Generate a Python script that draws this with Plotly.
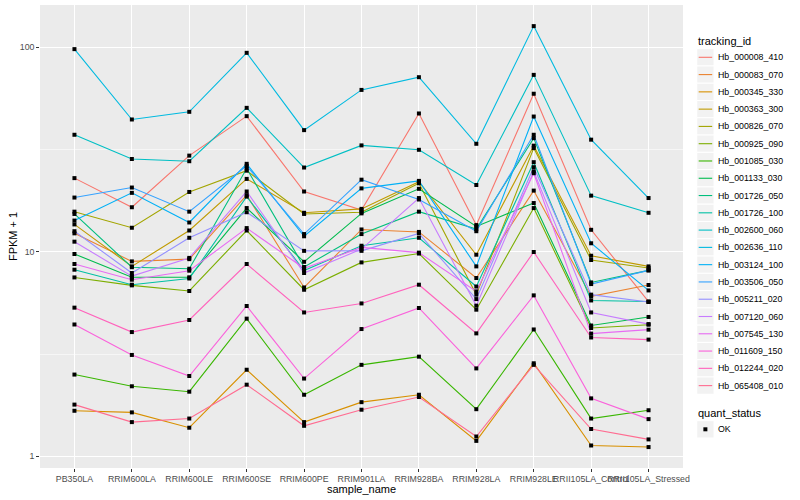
import plotly.graph_objects as go

samples = ["PB350LA", "RRIM600LA", "RRIM600LE", "RRIM600SE", "RRIM600PE", "RRIM901LA",
           "RRIM928BA", "RRIM928LA", "RRIM928LE", "RRII105LA_Control", "RRII105LA_Stressed"]

tracking_ids = ["Hb_000008_410", "Hb_000083_070", "Hb_000345_330", "Hb_000363_300", "Hb_000826_070",
                "Hb_000925_090", "Hb_001085_030", "Hb_001133_030", "Hb_001726_050", "Hb_001726_100",
                "Hb_002600_060", "Hb_002636_110", "Hb_003124_100", "Hb_003506_050", "Hb_005211_020",
                "Hb_007120_060", "Hb_007545_130", "Hb_011609_150", "Hb_012244_020", "Hb_065408_010"]

colors = ["#F8766D", "#EA8331", "#D89000", "#C09B00", "#A3A500", "#7CAE00", "#39B600", "#00BB4E",
          "#00BF7D", "#00C1A3", "#00BFC4", "#00BAE0", "#00B0F6", "#35A2FF", "#9590FF", "#C77CFF",
          "#E76BF3", "#FA62DB", "#FF62BC", "#FF6C91"]

# FPKM + 1 per sample (same order as samples)
Hb_000008_410 = [22.9, 16.5, 29.5, 46.0, 19.7, 16.0, 47.4, 13.5, 59.2, 12.8, 5.7]
Hb_000083_070 = [12.3, 8.97, 9.2, 18.9, 6.69, 12.85, 12.5, 7.44, 19.9, 6.05, 6.88]
Hb_000345_330 = [1.67, 1.64, 1.38, 2.65, 1.47, 1.84, 2.0, 1.19, 2.85, 1.13, 1.11]
Hb_000363_300 = [13.6, 8.48, 12.7, 22.7, 15.5, 16.2, 22.0, 9.67, 33.0, 9.56, 8.48]
Hb_000826_070 = [15.7, 13.1, 19.6, 24.9, 15.3, 15.6, 21.6, 6.17, 32.1, 9.11, 8.32]
Hb_000925_090 = [7.49, 6.85, 6.43, 12.7, 6.52, 8.87, 9.8, 5.21, 16.35, 4.24, 4.40]
Hb_001085_030 = [2.51, 2.20, 2.07, 4.71, 2.0, 2.8, 3.07, 1.70, 4.17, 1.53, 1.68]
Hb_001133_030 = [9.75, 7.5, 7.5, 16.35, 8.93, 15.4, 20.3, 13.3, 17.3, 4.36, 4.80]
Hb_001726_050 = [15.3, 8.4, 8.26, 25.5, 8.42, 12.2, 15.7, 12.9, 35.9, 7.08, 8.11]
Hb_001726_100 = [8.17, 6.9, 7.4, 18.6, 8.1, 10.7, 11.7, 6.76, 27.4, 5.78, 5.71]
Hb_002600_060 = [37.3, 28.4, 27.7, 50.5, 25.8, 33.1, 31.5, 21.2, 73.2, 18.8, 15.5]
Hb_002636_110 = [97.8, 44.3, 48.3, 93.8, 39.3, 61.8, 71.3, 33.7, 126.7, 35.3, 18.3]
Hb_003124_100 = [14.2, 19.4, 13.9, 26.9, 11.9, 20.4, 22.2, 8.48, 45.8, 11.0, 6.47]
Hb_003506_050 = [18.4, 20.6, 15.7, 26.3, 12.2, 22.5, 18.0, 12.6, 37.3, 6.95, 8.11]
Hb_005211_020 = [12.6, 7.87, 11.7, 15.6, 10.1, 10.1, 12.3, 5.87, 25.9, 6.17, 5.68]
Hb_007120_060 = [11.2, 7.6, 9.33, 19.7, 7.87, 10.3, 18.3, 5.45, 24.7, 5.05, 4.43]
Hb_007545_130 = [8.71, 7.3, 8.08, 13.05, 8.3, 10.5, 9.9, 6.4, 24.2, 3.98, 4.16]
Hb_011609_150 = [4.41, 3.13, 2.47, 5.43, 2.40, 4.19, 5.31, 2.69, 6.12, 1.92, 1.52]
Hb_012244_020 = [5.33, 4.05, 4.64, 8.71, 5.05, 5.59, 6.90, 3.99, 9.97, 3.81, 3.72]
Hb_065408_010 = [1.79, 1.47, 1.53, 2.24, 1.41, 1.69, 1.95, 1.25, 2.8, 1.36, 1.21]

series = [Hb_000008_410, Hb_000083_070, Hb_000345_330, Hb_000363_300, Hb_000826_070,
          Hb_000925_090, Hb_001085_030, Hb_001133_030, Hb_001726_050, Hb_001726_100,
          Hb_002600_060, Hb_002636_110, Hb_003124_100, Hb_003506_050, Hb_005211_020,
          Hb_007120_060, Hb_007545_130, Hb_011609_150, Hb_012244_020, Hb_065408_010]

y_ticks = [1, 10, 100]
quant_status = ["OK"]

FONT = "Liberation Sans, Arial, Helvetica, sans-serif"

fig = go.Figure()

for name, col, vals in zip(tracking_ids, colors, series):
    fig.add_trace(go.Scatter(x=samples, y=vals, mode="lines", name=name,
                             line=dict(color=col, width=1.1), showlegend=False))

all_x, all_y = [], []
for vals in series:
    all_x += samples
    all_y += vals
fig.add_trace(go.Scatter(x=all_x, y=all_y, mode="markers", name="OK",
                         marker=dict(symbol="square", size=4, color="black"), showlegend=False))

# layout geometry (pixels)
W, H = 800, 500
ML, MR, MT, MB = 40, 116.5, 5, 32
PW = W - ML - MR
PH = H - MT - MB


def px(xpix):
    return (xpix - ML) / PW


def py(ypix):
    return (H - MB - ypix) / PH


shapes = []
annotations = []

# axis titles
annotations.append(dict(x=px(361.7), y=py(489), xref="paper", yref="paper", text="sample_name",
                        showarrow=False, xanchor="center", yanchor="middle",
                        font=dict(size=11, color="black", family=FONT)))
annotations.append(dict(x=px(12.5), y=py(236.5), xref="paper", yref="paper", text="FPKM + 1",
                        showarrow=False, xanchor="center", yanchor="middle", textangle=-90,
                        font=dict(size=11, color="black", family=FONT)))

# legend: tracking_id
annotations.append(dict(x=px(697), y=py(41), xref="paper", yref="paper", text="tracking_id",
                        showarrow=False, xanchor="left", yanchor="middle",
                        font=dict(size=11, color="black", family=FONT)))
key = 17.28
y0 = 57.3
for i, (name, col) in enumerate(zip(tracking_ids, colors)):
    cy = y0 + key * i
    shapes.append(dict(type="rect", xref="paper", yref="paper",
                       x0=px(697.3), x1=px(697.3 + key), y0=py(cy - key / 2), y1=py(cy + key / 2),
                       fillcolor="#F2F2F2", line=dict(color="white", width=1), layer="below"))
    shapes.append(dict(type="line", xref="paper", yref="paper",
                       x0=px(699.2), x1=px(712.7), y0=py(cy), y1=py(cy),
                       line=dict(color=col, width=1.1)))
    annotations.append(dict(x=px(716.5), y=py(cy), xref="paper", yref="paper", text=name,
                            showarrow=False, xanchor="left", yanchor="middle",
                            font=dict(size=8.8, color="black", family=FONT)))

# legend: quant_status
annotations.append(dict(x=px(697), y=py(412.5), xref="paper", yref="paper", text="quant_status",
                        showarrow=False, xanchor="left", yanchor="middle",
                        font=dict(size=11, color="black", family=FONT)))
cy = 429.3
shapes.append(dict(type="rect", xref="paper", yref="paper",
                   x0=px(697.3), x1=px(697.3 + key), y0=py(cy - key / 2), y1=py(cy + key / 2),
                   fillcolor="#F2F2F2", line=dict(color="white", width=1), layer="below"))
shapes.append(dict(type="rect", xref="paper", yref="paper",
                   x0=px(703.9), x1=px(707.9), y0=py(cy - 2), y1=py(cy + 2),
                   fillcolor="black", line=dict(width=0)))
annotations.append(dict(x=px(716.5), y=py(cy), xref="paper", yref="paper", text=quant_status[0],
                        showarrow=False, xanchor="left", yanchor="middle",
                        font=dict(size=8.8, color="black", family=FONT)))

fig.update_layout(
    width=W, height=H,
    margin=dict(l=ML, r=MR, t=MT, b=MB, pad=0),
    paper_bgcolor="white",
    plot_bgcolor="#EBEBEB",
    font=dict(family=FONT, size=11, color="black"),
    showlegend=False,
    hovermode=False,
    shapes=shapes,
    annotations=annotations,
    xaxis=dict(
        type="category", categoryorder="array", categoryarray=samples,
        range=[-0.6, len(samples) - 0.4],
        showgrid=True, gridcolor="white", gridwidth=1.07,
        zeroline=False, showline=False,
        ticks="outside", ticklen=2.75, tickwidth=1.07, tickcolor="#333333",
        tickangle=0, automargin=False,
        tickfont=dict(size=8.8, color="#4D4D4D", family=FONT),
        fixedrange=True,
    ),
    yaxis=dict(
        type="log",
        range=[-0.057, 2.206],
        tickmode="array", tickvals=y_ticks, ticktext=[str(v) for v in y_ticks],
        showgrid=True, gridcolor="white", gridwidth=1.07,
        minor=dict(tickmode="array", tickvals=[10 ** 0.5, 10 ** 1.5], showgrid=True,
                   gridcolor="white", gridwidth=0.53, ticks=""),
        zeroline=False, showline=False,
        ticks="outside", ticklen=2.75, tickwidth=1.07, tickcolor="#333333",
        automargin=False,
        tickfont=dict(size=8.8, color="#4D4D4D", family=FONT),
        fixedrange=True,
    ),
)

fig.write_html("out.html",
               config={"displayModeBar": False, "staticPlot": True},
               post_script="document.body.style.margin='0';document.body.style.padding='0';"
                           "document.documentElement.style.overflow='hidden';")
